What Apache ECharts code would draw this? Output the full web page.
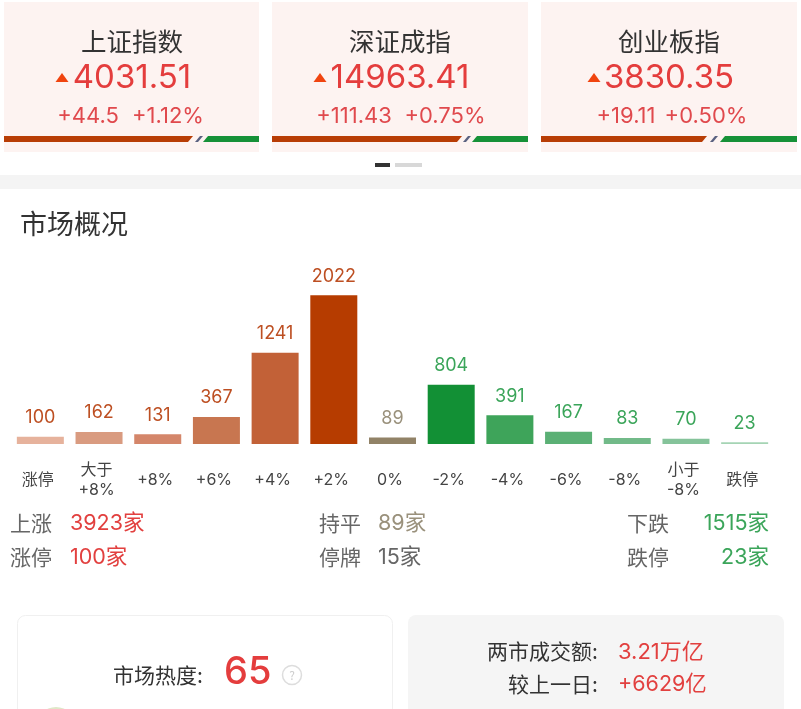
<!DOCTYPE html>
<html><head><meta charset="utf-8">
<style>html,body{margin:0;padding:0;background:#fff}#c{width:801px;height:709px}</style>
<script src="https://cdn.jsdelivr.net/npm/echarts@6/dist/echarts.min.js"></script>
</head><body><div id="c"></div>
<script>
// ---- data ----
const categories = ['涨停','大于\n+8%','+8%','+6%','+4%','+2%','0%','-2%','-4%','-6%','-8%','小于\n-8%','跌停'];
const counts = [100,162,131,367,1241,2022,89,804,391,167,83,70,23];
const indexNames = ['上证指数','深证成指','创业板指'];
const indexValues = ['4031.51','14963.41','3830.35'];
const indexChanges = ['+44.5','+111.43','+19.11'];
const indexPercents = ['+1.12%','+0.75%','+0.50%'];
// ---- styles ----
const barColors = ['#e6b29c','#d99b80','#d4866a','#c87650','#c26137','#b63c00','#918267','#129035','#3ea45a','#5bb075','#72ba89','#85c39a','#a5d4b4'];
const RED='#e2403f', BROWN='#bd4f22', TAUPE='#9a917c', GREEN='#3ba55a', GRAY='#666666', DARK='#333333';
const labelColors = counts.map((_,i)=> i<6?BROWN : i===6?TAUPE : GREEN);
const CJK='"Noto Sans CJK SC","Noto Sans",sans-serif';
const NUM='Inter,"Noto Sans CJK SC",sans-serif';
const MIX='Inter,"Noto Sans CJK SC",sans-serif';

const g=[];
function txt(x,y,text,size,fill,align,font,weight){
  g.push({type:'text',x,y,silent:true,style:{text,fontSize:size,fill,align:align||'left',verticalAlign:'middle',fontFamily:font||CJK,fontWeight:weight||'normal'}});
}
function rect(x,y,w,h,fill,r,stroke){
  g.push({type:'rect',silent:true,shape:{x,y,width:w,height:h,r:r||0},style:{fill,stroke:stroke||null,lineWidth:stroke?1:0}});
}
function poly(points,fill){ g.push({type:'polygon',silent:true,shape:{points},style:{fill}}); }

// index cards
const cardX=[4,272,541], cardW=[255,256,256];
const centers=[132,400,669], arrowX=[62,320,594];
const changeX=[[88,168],[354,445],[626,706]];
const splits=[[193,203,208],[462,471,477],[707,718,725]];
indexNames.forEach((n,i)=>{
  const x=cardX[i], w=cardW[i], s=splits[i];
  rect(x,2,w,150,'#fdf3f1');
  txt(centers[i],41,n,25.5,DARK,'center');
  const a=arrowX[i];
  poly([[a,73],[a+6.5,82],[a-6.5,82]],'#f0440f');
  txt(centers[i],78,indexValues[i],33,'#e43d3d','center',NUM);
  txt(changeX[i][0],116,indexChanges[i],22,'#e0494d','center',NUM);
  txt(changeX[i][1],116,indexPercents[i],22,'#e0494d','center',NUM);
  poly([[x,136],[s[0],136],[s[0]-5,142],[x,142]],'#b83d05');
  poly([[s[1]-3,136],[s[1],136],[s[1]-5,142],[s[1]-8,142]],'#5a6180');
  poly([[s[2],136],[x+w,136],[x+w,142],[s[2]-5,142]],'#169138');
});
// pager + divider
rect(375,163,15,4,'#333333');
rect(395,163,27,4,'#d8d8d8');
rect(0,175,801,14,'#f4f4f4');
txt(20,224,'市场概况',27,DARK);

// stats
txt(10,523,'上涨',21,GRAY); txt(70,524,'3923家',21.5,RED,'left',MIX);
txt(10,557,'涨停',21,GRAY); txt(70,558,'100家',21.5,RED,'left',MIX);
txt(319,523,'持平',21,GRAY); txt(378,524,'89家',21.5,TAUPE,'left',MIX);
txt(319,557,'停牌',21,GRAY); txt(378,558,'15家',21.5,GRAY,'left',MIX);
txt(627,523,'下跌',21,GRAY); txt(769,524,'1515家',21.5,GREEN,'right',MIX);
txt(627,557,'跌停',21,GRAY); txt(769,558,'23家',21.5,GREEN,'right',MIX);

// bottom cards
rect(17.5,615.5,375,110,'#ffffff',8,'#f0f0f0');
rect(408,615,376,110,'#f5f5f5',8);
txt(113,675,'市场热度:',21,DARK);
txt(224,673,'65',38,'#e43d3d','left',NUM,500);
g.push({type:'circle',silent:true,shape:{cx:292,cy:675,r:9.5},style:{fill:'#fff',stroke:'#dddddd',lineWidth:1.5}});
txt(292,675,'?',12,'#cccccc','center');
g.push({type:'circle',silent:true,shape:{cx:56,cy:727,r:20},style:{fill:'#dfe8c8'}});
txt(487,651,'两市成交额:',21,DARK);
txt(618,652,'3.21万亿',22,RED,'left',MIX);
txt(508,684,'较上一日:',21,DARK);
txt(618,685,'+6629亿',21.5,RED,'left',MIX);

const chart=echarts.init(document.getElementById('c'),null,{renderer:'canvas'});
chart.setOption({
  animation:false,
  backgroundColor:'#ffffff',
  grid:{left:11,width:763,top:260,bottom:265,containLabel:false},
  xAxis:{type:'category',data:categories,
    axisLine:{show:false},axisTick:{show:false},
    axisLabel:{interval:0,margin:36,fontSize:16,lineHeight:20,color:'#444444',verticalAlign:'middle',align:'center',padding:[0,5,0,0],fontFamily:MIX}},
  yAxis:{type:'value',min:0,max:2500,show:false,splitLine:{show:false}},
  series:[{type:'bar',barWidth:47,z:5,
    data:counts.map((v,i)=>({value:v,itemStyle:{color:barColors[i]},label:{color:labelColors[i]}})),
    label:{show:true,position:'top',distance:10,fontSize:18,fontFamily:NUM}}],
  graphic:{elements:g}
});
</script></body></html>
